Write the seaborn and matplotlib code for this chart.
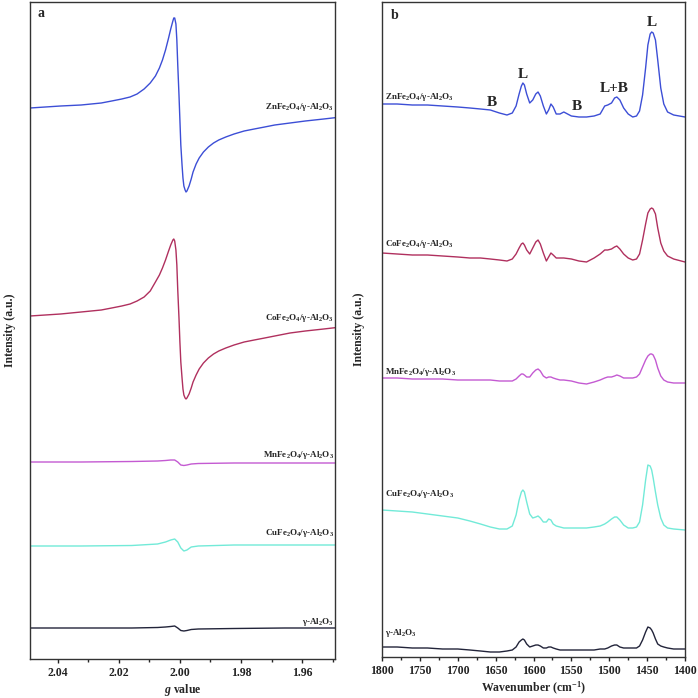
import numpy as np
import pandas as pd
import seaborn as sns
import matplotlib.pyplot as plt
from matplotlib.ticker import MultipleLocator

# ---- panel a : EPR spectra (g value vs intensity, arbitrary offsets) ----
g_strong = [2.0490, 2.0440, 2.0390, 2.0323, 2.0257, 2.0223, 2.0190, 2.0163, 2.0140, 2.0117,
            2.0097, 2.0080, 2.0067, 2.0057, 2.0047, 2.0037, 2.0030, 2.0023, 2.0020, 2.0017,
            2.0013, 2.0010, 2.0007, 2.0003, 2.0000, 1.9997, 1.9993, 1.9990, 1.9987, 1.9983,
            1.9980, 1.9977, 1.9970, 1.9963, 1.9957, 1.9947, 1.9937, 1.9923, 1.9907, 1.9890,
            1.9873, 1.9850, 1.9823, 1.9790, 1.9757, 1.9723, 1.9690, 1.9640, 1.9590, 1.9530,
            1.9473]
epr_zn = [552, 553, 554, 555, 557, 559, 561, 563, 566, 571,
          577, 584, 592, 600, 610, 622, 631, 639, 642, 642,
          636, 620, 595, 565, 540, 515, 495, 482, 474, 470,
          468, 469, 474, 481, 488, 496, 502, 508, 513, 517,
          520, 523, 526, 529, 531, 533, 535, 537, 539, 541,
          543]
epr_co = [344, 345, 346, 348, 350, 352, 354, 356, 359, 363,
          369, 378, 385, 392, 400, 409, 415, 420, 421, 419,
          410, 395, 370, 342, 318, 298, 282, 271, 265, 262,
          261, 262, 266, 272, 278, 285, 291, 297, 302, 306,
          309, 312, 315, 318, 320, 322, 324, 327, 329, 331,
          333]

g_weak = [2.049, 2.0323, 2.0157, 2.0073, 2.0047, 2.003, 2.0017, 2.0007, 1.9997, 1.9987,
          1.9977, 1.9963, 1.994, 1.9823, 1.9657, 1.9473]
epr_mn = [198, 198, 198.5, 199, 199.5, 200, 200, 198, 195, 194.5, 195, 196, 196.5, 197, 197, 197]
epr_cu = [114, 114, 114.5, 116, 118, 120, 121, 118, 112, 109, 110, 113, 114, 115, 115, 115]
epr_al = [32, 32, 32, 32.5, 33, 33.5, 34, 32, 29.5, 29, 29.5, 30.5, 31, 31.5, 32, 32]

# ---- panel b : IR spectra of adsorbed pyridine ----
wn = [1800, 1780, 1760, 1740, 1720, 1700, 1684, 1670, 1657, 1645,
      1635, 1628, 1623, 1619, 1616, 1614, 1612, 1609, 1605, 1601,
      1597, 1594, 1591, 1587, 1583, 1580, 1577, 1574, 1570, 1565,
      1560, 1550, 1540, 1530, 1520, 1512, 1506, 1502, 1497, 1493,
      1490, 1486, 1481, 1475, 1469, 1464, 1460, 1456, 1452, 1449,
      1446, 1444, 1442, 1439, 1436, 1432, 1428, 1423, 1415, 1400]
ir_zn = [556, 556, 555, 555, 554, 553, 552, 551, 550, 547,
         545, 547, 554, 566, 574, 577, 575, 566, 557, 560,
         566, 568, 564, 554, 546, 550, 556, 553, 546, 546,
         548, 544, 543, 543, 544, 546, 554, 555, 557, 562,
         563, 560, 552, 546, 543, 544, 549, 565, 592, 615,
         626, 628, 627, 620, 600, 572, 556, 548, 545, 543]
ir_co = [407, 406, 405, 405, 404, 403, 402, 402, 401, 400,
         399, 401, 406, 412, 416, 417, 415, 410, 406, 412,
         418, 420, 416, 407, 399, 403, 407, 405, 402, 402,
         402, 401, 399, 398, 402, 406, 410, 410, 411, 413,
         414, 411, 406, 402, 400, 401, 406, 420, 436, 447,
         451, 452, 451, 446, 432, 417, 409, 404, 401, 398]
ir_mn = [282, 282, 281, 281, 281, 280, 280, 280, 280, 279,
         279, 279, 281, 284, 286, 286, 285, 283, 283, 287,
         290, 291, 289, 284, 282, 283, 283, 282, 281, 280,
         280, 279, 277, 276, 278, 280, 282, 283, 283, 284,
         285, 284, 282, 282, 282, 283, 286, 293, 300, 304,
         306, 306, 305, 300, 292, 284, 280, 278, 277, 277]
ir_cu = [150, 149, 148, 146, 144, 142, 139, 136, 133, 131,
         131, 134, 145, 160, 168, 170, 168, 158, 146, 142,
         143, 144, 142, 138, 138, 141, 140, 136, 134, 133,
         132, 132, 132, 132, 133, 134, 136, 138, 141, 143,
         143, 140, 135, 132, 132, 133, 138, 155, 180, 195,
         194, 190, 182, 168, 155, 142, 135, 132, 131, 130]
ir_al = [13, 13, 12, 12, 11, 11, 10, 9, 8, 8,
         9, 10, 13, 18, 20, 21, 20, 16, 13, 14,
         15, 15, 14, 12, 12, 13, 13, 12, 11, 10,
         10, 10, 10, 10, 10, 11, 11, 12, 14, 15,
         15, 13, 12, 12, 12, 12, 14, 20, 28, 33,
         32, 30, 27, 21, 16, 14, 13, 12, 11, 11]

names = ["ZnFe$_2$O$_4$/γ-Al$_2$O$_3$", "CoFe$_2$O$_4$/γ-Al$_2$O$_3$",
         "MnFe$_2$O$_4$/γ-Al$_2$O$_3$", "CuFe$_2$O$_4$/γ-Al$_2$O$_3$", "γ-Al$_2$O$_3$"]
colors = ["#3c4ed6", "#b0305e", "#c45ad2", "#72ead8", "#22243a"]

sns.set_style("ticks")
plt.rcParams["font.family"] = ["Liberation Serif", "DejaVu Serif"]
plt.rcParams["font.weight"] = "bold"
plt.rcParams["mathtext.fontset"] = "custom"
plt.rcParams["mathtext.rm"] = "Liberation Serif:bold"
plt.rcParams["mathtext.it"] = "Liberation Serif:italic:bold"
plt.rcParams["mathtext.bf"] = "Liberation Serif:bold"

fig = plt.figure(figsize=(6.98, 6.98), dpi=100)
ax1 = fig.add_axes([30 / 698, 1 - 659 / 698, 305 / 698, 657 / 698])
ax2 = fig.add_axes([382 / 698, 1 - 657 / 698, 303 / 698, 655 / 698])

# panel a
epr = [(g_strong, epr_zn), (g_strong, epr_co), (g_weak, epr_mn), (g_weak, epr_cu), (g_weak, epr_al)]
for (x, y), c in zip(epr, colors):
    sns.lineplot(x=x, y=y, color=c, lw=1.0, ax=ax1)
ax1.set_xlim(2.049, 1.9493)
ax1.set_ylim(1, 658)
lab_a = [553, 342, 205, 127, 38]
for n, yy in zip(names, lab_a):
    ax1.text(1.9497, yy, n, ha="right", va="center", fontsize=6.5, fontweight="bold")
ax1.xaxis.set_major_locator(MultipleLocator(0.02))
ax1.xaxis.set_minor_locator(MultipleLocator(0.01))
ax1.set_xlabel("$g$ value", fontsize=8.5, fontweight="bold", labelpad=2)
ax1.set_ylabel("Intensity (a.u.)", fontsize=8.5, fontweight="bold")
ax1.yaxis.set_label_coords(-0.045, 0.5)
ax1.text(0.026, 0.982, "a", transform=ax1.transAxes, ha="left", va="center",
         fontsize=10, fontweight="bold")

# panel b
for y, c in zip([ir_zn, ir_co, ir_mn, ir_cu, ir_al], colors):
    sns.lineplot(x=wn, y=y, color=c, lw=1.0, ax=ax2)
ax2.set_xlim(1800, 1400)
ax2.set_ylim(3, 658)
lab_b = [563, 416, 288, 166, 27]
for n, yy in zip(names, lab_b):
    ax2.text(1796, yy, n, ha="left", va="center", fontsize=6.5, fontweight="bold")
for t, x, yy in [("B", 1655, 558), ("L", 1614, 586), ("B", 1543, 553),
                 ("L+B", 1493, 572), ("L", 1444, 637)]:
    ax2.text(x, yy, t, ha="center", va="center", fontsize=11, fontweight="bold")
ax2.xaxis.set_major_locator(MultipleLocator(50))
ax2.xaxis.set_minor_locator(MultipleLocator(25))
ax2.set_xlabel("Wavenumber (cm$^{-1}$)", fontsize=8.5, fontweight="bold", labelpad=2)
ax2.set_ylabel("Intensity (a.u.)", fontsize=8.5, fontweight="bold")
ax2.yaxis.set_label_coords(-0.056, 0.5)
ax2.text(0.03, 0.979, "b", transform=ax2.transAxes, ha="left", va="center",
         fontsize=10, fontweight="bold")

for ax in (ax1, ax2):
    ax.set_yticks([])
    for s in ax.spines.values():
        s.set_visible(True)
        s.set_color("#333333")
        s.set_linewidth(1.0)
    ax.tick_params(axis="x", which="major", direction="out", length=3, width=1,
                   labelsize=8.5, pad=3, colors="#222222")
    ax.tick_params(axis="x", which="minor", direction="out", length=2, width=1)
    for lbl in ax.get_xticklabels():
        lbl.set_fontweight("bold")

fig.savefig("out.png", dpi=100)
